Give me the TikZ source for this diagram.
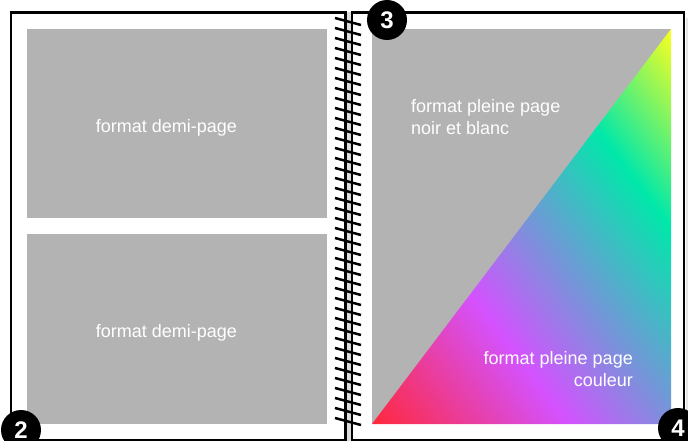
\documentclass[tikz,border=0pt]{standalone}
\usepackage{fontspec}
\setmainfont{Liberation Sans}
\definecolor{pagegrey}{HTML}{B3B3B3}
\definecolor{spiralgrey}{HTML}{DCDCDC}
\definecolor{shadowgrey}{HTML}{E6E6E6}
\definecolor{cred}{RGB}{255,40,60}
\definecolor{cmag}{RGB}{212,82,255}
\definecolor{cteal}{RGB}{0,232,170}
\definecolor{cyel}{RGB}{250,255,30}
\pgfdeclarehorizontalshading{rainbow}{100bp}{color(0bp)=(cred); color(26.23bp)=(cred); color(41.92bp)=(cmag); color(61.89bp)=(cteal); color(73.77bp)=(cyel); color(100bp)=(cyel)}
\begin{document}
\begin{tikzpicture}[x=1pt,y=-1pt,
  pageframe/.style={draw=black,line width=2.5pt,fill=white},
  greybox/.style={fill=pagegrey},
  lbl/.style={text=white,font=\fontsize{18}{22}\selectfont,inner sep=0pt},
  numdisc/.style={circle,fill=black,minimum size=40pt,inner sep=0pt,text=white,font=\fontsize{24}{24}\selectfont\bfseries},
  spiralstroke/.style={line width=2.5pt,black}]
\useasboundingbox (0,0) rectangle (688,441);
% shadow on right
\fill[shadowgrey] (686,18) rectangle (688,441);
% pages
\draw[pageframe] (11,12.5) rectangle (345.5,440.5);
\draw[pageframe] (352,12.5) rectangle (684,440.5);
% left page boxes
\fill[greybox] (27,29) rectangle (327,218);
\fill[greybox] (27,234) rectangle (327,424);
% right page
\fill[greybox] (372,29) rectangle (671,424);
\begin{scope}
  \clip (372,424) -- (671,424) -- (671,29) -- cycle;
  \shade[shading=rainbow,shading angle=36.87] (271.5,-23.5) rectangle (771.5,476.5);
\end{scope}
% spiral
\fill[spiralgrey] (346.75,12.5) rectangle (350.75,440.5);
\draw[black,line width=2.5pt] (345.5,12.5) -- (345.5,441);
\draw[black,line width=2.5pt] (352,12.5) -- (352,441);
\foreach \k in {0,...,40}{
  \draw[spiralstroke] (335,18+10*\k) -- (361,25+10*\k);
}
% labels
\node[lbl,anchor=base] (d1) at (166.5,132) {format demi-page};
\node[lbl,anchor=base] (d2) at (166.5,337) {format demi-page};
\node[lbl,anchor=base west] (nb1) at (411,113) {format pleine page};
\node[lbl,anchor=base west] (nb2) at (411,135) {noir et blanc};
\node[lbl,anchor=base east] (c1) at (633,364) {format pleine page};
\node[lbl,anchor=base east] (c2) at (633,386) {couleur};
% number discs
\node[numdisc] (n2) at (21,430) {2};
\node[numdisc] (n3) at (387,20) {3};
\node[numdisc] (n4) at (678,428) {4};
\end{tikzpicture}
\end{document}
